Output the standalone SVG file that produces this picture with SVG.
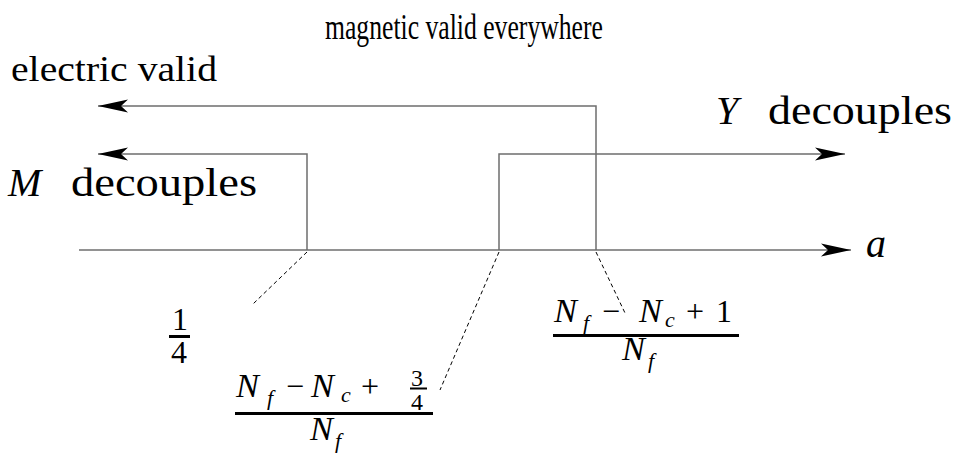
<svg xmlns="http://www.w3.org/2000/svg" width="958" height="456" viewBox="0 0 958 456">
<style>
  text { font-family: 'Liberation Serif', 'DejaVu Serif', serif; font-size: 20px; fill: #000; }
  .i { font-style: italic; }
  .sub { font-size: 13.75px; font-style: italic; }
  .ln { stroke: #6e6e6e; stroke-width: 1.5; fill: none; }
  .ld { stroke: #000; stroke-width: 1; stroke-dasharray: 4 3; fill: none; }
  .bar { fill: #000; }
</style>
<defs>
  <marker id="ah" markerUnits="userSpaceOnUse" markerWidth="32" markerHeight="16" viewBox="-31 -8 32 16" refX="0" refY="0" orient="auto">
    <path d="M0,0 L-30,-6.5 L-23,0 L-30,6.5 Z" fill="#000"/>
  </marker>
</defs>
<rect width="958" height="456" fill="#fff"/>

<g id="connectors">
  <line class="ln" x1="79" y1="250" x2="851" y2="250" marker-end="url(#ah)"/>
  <polyline class="ln" points="596,250 596,106 98,106" marker-end="url(#ah)"/>
  <polyline class="ln" points="307,250 307,154 98,154" marker-end="url(#ah)"/>
  <polyline class="ln" points="499,250 499,154 845,154" marker-end="url(#ah)"/>
  <line class="ld" x1="307" y1="252" x2="253" y2="304"/>
  <line class="ld" x1="499" y1="252" x2="440" y2="390"/>
  <line class="ld" x1="596" y1="252" x2="625" y2="313"/>
</g>

<g id="label-magnetic">
  <text transform="translate(325,39) scale(1.8)" textLength="154.4" lengthAdjust="spacingAndGlyphs">magnetic valid everywhere</text>
</g>
<g id="label-electric">
  <text transform="translate(11,81) scale(1.75)" textLength="117.7" lengthAdjust="spacingAndGlyphs">electric valid</text>
</g>
<g id="label-M">
  <text class="i" transform="translate(8,196) scale(2)">M</text>
  <text transform="translate(71,196) scale(2)" textLength="93" lengthAdjust="spacingAndGlyphs">decouples</text>
</g>
<g id="label-Y">
  <text class="i" transform="translate(716,124) scale(2)">Y</text>
  <text transform="translate(768,124) scale(2)" textLength="92" lengthAdjust="spacingAndGlyphs">decouples</text>
</g>
<g id="label-a">
  <text class="i" transform="translate(866,257) scale(2)">a</text>
</g>

<g id="frac-quarter">
  <text transform="translate(172,330) scale(1.6)">1</text>
  <rect class="bar" x="169" y="335" width="21" height="3"/>
  <text transform="translate(171,363) scale(1.6)">4</text>
</g>

<g id="frac-second">
  <text transform="translate(236,397) scale(1.6)"><tspan class="i" x="0" y="0" style="font-size:21.5px">N</tspan><tspan class="sub" x="19.4" y="5">f</tspan><tspan x="31.25" y="0">−</tspan><tspan class="i" x="46.9" y="0" style="font-size:21.5px">N</tspan><tspan class="sub" x="65.6" y="3.1">c</tspan><tspan x="78.1" y="0">+</tspan></text>
  <text transform="translate(411,386) scale(1.2)">3</text>
  <rect class="bar" x="410" y="387.5" width="17" height="2"/>
  <text transform="translate(411,410) scale(1.2)">4</text>
  <rect class="bar" x="235" y="412" width="198" height="3"/>
  <text transform="translate(310,440) scale(1.6)"><tspan class="i" x="0" y="0" style="font-size:21.5px">N</tspan><tspan class="sub" x="15.6" y="5">f</tspan></text>
</g>

<g id="frac-third">
  <text transform="translate(554,322) scale(1.6)"><tspan class="i" x="0" y="0" style="font-size:21.5px">N</tspan><tspan class="sub" x="18.1" y="5">f</tspan><tspan x="30" y="0">−</tspan><tspan class="i" x="53.1" y="0" style="font-size:21.5px">N</tspan><tspan class="sub" x="69.4" y="3.1">c</tspan><tspan x="82.5" y="0">+</tspan><tspan x="101.25" y="0">1</tspan></text>
  <rect class="bar" x="553" y="334" width="186" height="3"/>
  <text transform="translate(622,360) scale(1.6)"><tspan class="i" x="0" y="0" style="font-size:21.5px">N</tspan><tspan class="sub" x="16.25" y="5">f</tspan></text>
</g>
</svg>
